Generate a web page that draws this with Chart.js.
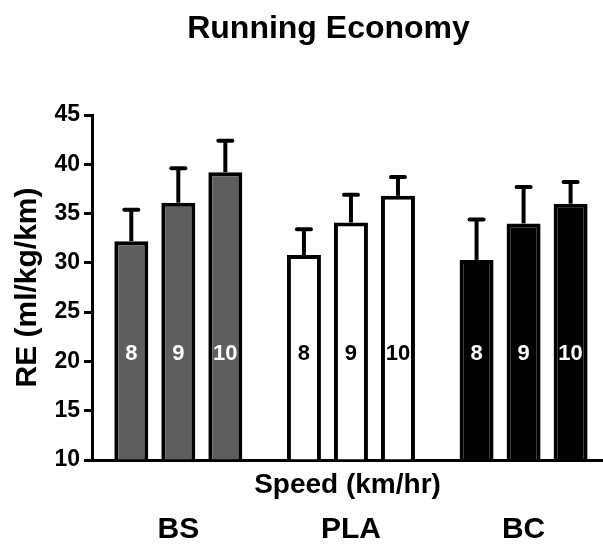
<!DOCTYPE html>
<html>
<head>
<meta charset="utf-8">
<title>Running Economy</title>
<script src="https://cdn.jsdelivr.net/npm/chart.js@4.4.1/dist/chart.umd.min.js"></script>
<style>
  html, body { margin: 0; padding: 0; background: #ffffff; }
  #wrap { width: 603px; height: 547px; }
</style>
</head>
<body>
<div id="wrap"><canvas id="chart" width="603" height="547"></canvas></div>
<script>
// Supplement groups shown along the x axis
const groups = ['BS', 'PLA', 'BC'];
// Running speeds (km/hr), one bar per speed inside each group
const speeds = ['8', '9', '10'];

// Mean running economy (ml/kg/km), ordered BS, PLA, BC
const re8  = [32.2, 30.8, 30.3];
const re9  = [36.1, 34.1, 34.0];
const re10 = [39.2, 36.8, 36.0];

// Standard deviations, same order
const sd8  = [3.2, 2.6, 4.1];
const sd9  = [3.5, 2.8, 3.7];
const sd10 = [3.2, 1.9, 2.2];

// Y axis tick values
const yTicks = [10, 15, 20, 25, 30, 35, 40, 45];

const means = [re8, re9, re10];
const sds = [sd8, sd9, sd10];

// Per-group styling
const groupFill = ['#5e5e5e', '#ffffff', '#000000'];
const groupText = ['#ffffff', '#000000', '#ffffff'];
const SPEED_LABEL_LEVEL = 20.8;   // value level where the speed numbers sit inside the bars

Chart.defaults.font.family = "'Liberation Sans', Arial, Helvetica, sans-serif";
Chart.defaults.color = '#000000';

// Error bars (mean + SD) drawn above each bar
const errorBars = {
  id: 'errorBars',
  afterDatasetsDraw(chart) {
    const { ctx } = chart;
    const y = chart.scales.y;
    ctx.save();
    ctx.strokeStyle = '#000000';
    ctx.lineWidth = 4;
    chart.data.datasets.forEach((ds, di) => {
      const meta = chart.getDatasetMeta(di);
      meta.data.forEach((bar, i) => {
        const top = y.getPixelForValue(ds.data[i].y + ds.sd[i]);
        ctx.lineCap = 'butt';
        ctx.beginPath();
        ctx.moveTo(bar.x, bar.y);
        ctx.lineTo(bar.x, top);
        ctx.stroke();
        ctx.lineCap = 'round';
        ctx.beginPath();
        ctx.moveTo(bar.x - 7, top);
        ctx.lineTo(bar.x + 7, top);
        ctx.stroke();
      });
    });
    ctx.restore();
  }
};

// Speed numbers written inside the bars
const speedLabels = {
  id: 'speedLabels',
  afterDatasetsDraw(chart) {
    const { ctx } = chart;
    const y = chart.scales.y;
    const py = y.getPixelForValue(SPEED_LABEL_LEVEL);
    ctx.save();
    ctx.font = "bold 22px 'Liberation Sans', Arial, sans-serif";
    ctx.textAlign = 'center';
    ctx.textBaseline = 'middle';
    chart.data.datasets.forEach((ds, di) => {
      const meta = chart.getDatasetMeta(di);
      meta.data.forEach((bar, i) => {
        ctx.fillStyle = groupText[i];
        ctx.fillText(ds.label, bar.x, py);
      });
    });
    ctx.restore();
  }
};

// Chart heading
const heading = {
  id: 'heading',
  afterDraw(chart) {
    const { ctx } = chart;
    ctx.save();
    ctx.font = "bold 32px 'Liberation Sans', Arial, sans-serif";
    ctx.fillStyle = '#000000';
    ctx.textAlign = 'center';
    ctx.textBaseline = 'alphabetic';
    ctx.fillText('Running Economy', 328.5, 38);
    ctx.restore();
  }
};

const groupTicks = (scale) => { scale.ticks = groups.map((g, i) => ({ value: i })); };

new Chart(document.getElementById('chart'), {
  type: 'bar',
  data: {
    datasets: speeds.map((s, k) => ({
      label: s,
      data: groups.map((g, i) => ({ x: i, y: means[k][i] })),
      sd: sds[k],
      backgroundColor: groupFill,
      borderColor: '#000000',
      borderWidth: 4,
      borderSkipped: 'start',
      base: 10,
      categoryPercentage: 0.817,
      barPercentage: 0.723
    }))
  },
  options: {
    responsive: false,
    animation: false,
    devicePixelRatio: 1,
    layout: { padding: { top: 115, left: 0, right: 0, bottom: 0 } },
    plugins: {
      legend: { display: false },
      tooltip: { enabled: false },
      title: { display: false }
    },
    scales: {
      x: {
        type: 'linear',
        position: 'bottom',
        weight: 0,
        z: 1,
        offset: false,
        min: -0.5,
        max: 2.46,
        afterBuildTicks: groupTicks,
        ticks: { display: false },
        grid: { display: false, offset: false },
        border: { display: true, color: '#000000', width: 3 },
        title: {
          display: true,
          text: 'Speed (km/hr)',
          color: '#000000',
          font: { size: 28, weight: 'bold' },
          padding: { top: 0, bottom: 0 }
        },
        afterFit: (s) => { s.height = 42; }
      },
      x2: {
        type: 'linear',
        position: 'bottom',
        weight: 1,
        offset: false,
        min: -0.5,
        max: 2.46,
        afterBuildTicks: groupTicks,
        ticks: {
          color: '#000000',
          font: { size: 30, weight: 'bold' },
          padding: 10,
          maxRotation: 0,
          autoSkip: false,
          callback: (v) => groups[v]
        },
        grid: { display: false, drawTicks: false, offset: false },
        border: { display: false },
        afterFit: (s) => { s.height = 45; }
      },
      y: {
        min: 10,
        max: 45,
        afterBuildTicks: (s) => { s.ticks = yTicks.map(v => ({ value: v })); },
        ticks: { color: '#000000', font: { size: 23, weight: 'bold' }, padding: 4 },
        grid: {
          display: true,
          drawOnChartArea: false,
          drawTicks: true,
          tickLength: 8,
          tickWidth: 3,
          tickColor: '#000000'
        },
        border: { display: true, color: '#000000', width: 3 },
        title: {
          display: true,
          text: 'RE (ml/kg/km)',
          color: '#000000',
          font: { size: 30, weight: 'bold' },
          padding: { top: 10, bottom: 0 }
        },
        afterFit: (s) => { s.width = 92; }
      }
    }
  },
  plugins: [errorBars, speedLabels, heading]
});
</script>
</body>
</html>
